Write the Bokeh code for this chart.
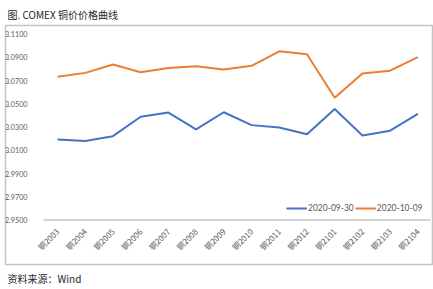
from bokeh.plotting import figure
from bokeh.models import (Range1d, Legend, LegendItem, Title,
                          NumeralTickFormatter, FixedTicker)
from bokeh.embed import file_html
from bokeh.resources import INLINE
import math

categories = ["铜2003", "铜2004", "铜2005", "铜2006", "铜2007", "铜2008", "铜2009",
              "铜2010", "铜2011", "铜2012", "铜2101", "铜2102", "铜2103", "铜2104"]
series_0930 = [3.0194, 3.0181, 3.0222, 3.0389, 3.0425, 3.0281, 3.0428,
               3.0317, 3.0297, 3.0239, 3.0456, 3.0228, 3.0269, 3.0414]
series_1009 = [3.0733, 3.0767, 3.0839, 3.0772, 3.0808, 3.0825, 3.0797,
               3.0828, 3.0953, 3.0928, 3.0553, 3.0761, 3.0786, 3.0903]
y_ticks = [2.95, 2.97, 2.99, 3.01, 3.03, 3.05, 3.07, 3.09, 3.11]
label_0930 = "2020-09-30"
label_1009 = "2020-10-09"
title_text = "图. COMEX 铜价价格曲线"
source_text = "资料来源：Wind"

x_idx = list(range(len(categories)))

W, H = 433, 289
# frame == the light grey box round the chart
BL, BR, BT, BB = 5, 432, 22, 269
px_per_cat = 27.72
first_x = 57.0
px_per_unit = 1200.0
y_top_px = 31.0   # pixel of y=3.11

x0 = -(first_x - BL) / px_per_cat
x1 = (BR - first_x) / px_per_cat
y1 = y_ticks[-1] + (y_top_px - BT) / px_per_unit
y0 = y1 - (BB - BT) / px_per_unit
axis_x = -(first_x - 41) / px_per_cat
base_start = -(first_x - 43) / px_per_cat
base_end = (430 - first_x) / px_per_cat

p = figure(width=W, height=H, output_backend="svg", toolbar_location=None,
           x_range=Range1d(x0, x1), y_range=Range1d(y0, y1),
           min_border_left=BL, min_border_right=W - BR,
           min_border_top=BT, min_border_bottom=H - BB)
p.outline_line_color = "#c4c4c4"
p.outline_line_width = 1.5
p.xgrid.visible = False
p.ygrid.visible = False

# y axis (drawn inside the box)
yax = p.yaxis[0]
yax.fixed_location = axis_x
yax.bounds = (y_ticks[0], y_ticks[-1])
yax.ticker = FixedTicker(ticks=y_ticks)
yax.formatter = NumeralTickFormatter(format="0.0000")
yax.axis_line_color = None
yax.major_tick_line_color = None
yax.minor_tick_line_color = None
yax.major_label_standoff = 8
yax.major_label_text_font = "Lato"
yax.major_label_text_font_size = "7.2px"
yax.major_label_text_color = "#595959"

# x axis (drawn inside the box)
xax = p.xaxis[0]
xax.fixed_location = y_ticks[0]
xax.ticker = FixedTicker(ticks=x_idx)
xax.major_label_overrides = {i: c for i, c in zip(x_idx, categories)}
xax.axis_line_color = None
xax.major_tick_line_color = None
xax.minor_tick_line_color = None
xax.major_label_orientation = math.pi / 4
xax.major_label_standoff = 4
xax.major_label_text_font = "Noto Sans CJK SC"
xax.major_label_text_font_size = "8px"
xax.major_label_text_color = "#595959"

# baseline of the value axis (at its lowest tick)
p.segment(x0=[base_start], y0=[y_ticks[0]], x1=[base_end], y1=[y_ticks[0]],
          line_color="#c4c4c4", line_width=1.5)

r1 = p.line(x_idx, series_0930, line_color="#4472C4", line_width=2)
r2 = p.line(x_idx, series_1009, line_color="#ED7D31", line_width=2)

legend = Legend(items=[LegendItem(label=label_0930, renderers=[r1]),
                       LegendItem(label=label_1009, renderers=[r2])],
                orientation="horizontal", location=(281, 51),
                background_fill_alpha=0, border_line_color=None,
                margin=0, padding=0, spacing=1, label_standoff=1,
                glyph_width=21, glyph_height=8, label_height=8,
                label_text_font="Lato", label_text_font_size="8.5px",
                label_text_color="#595959")
p.add_layout(legend, "center")

p.add_layout(Title(text=title_text, text_font="Noto Sans CJK SC",
                   text_font_size="10px", text_color="#262626",
                   text_font_style="normal", align="left", offset=2,
                   standoff=8), "above")
p.add_layout(Title(text=source_text, text_font="Noto Sans CJK SC",
                   text_font_size="10px", text_color="#262626",
                   text_font_style="normal", align="left", offset=2,
                   standoff=8), "below")

open("out.html", "w").write(file_html(p, INLINE))
